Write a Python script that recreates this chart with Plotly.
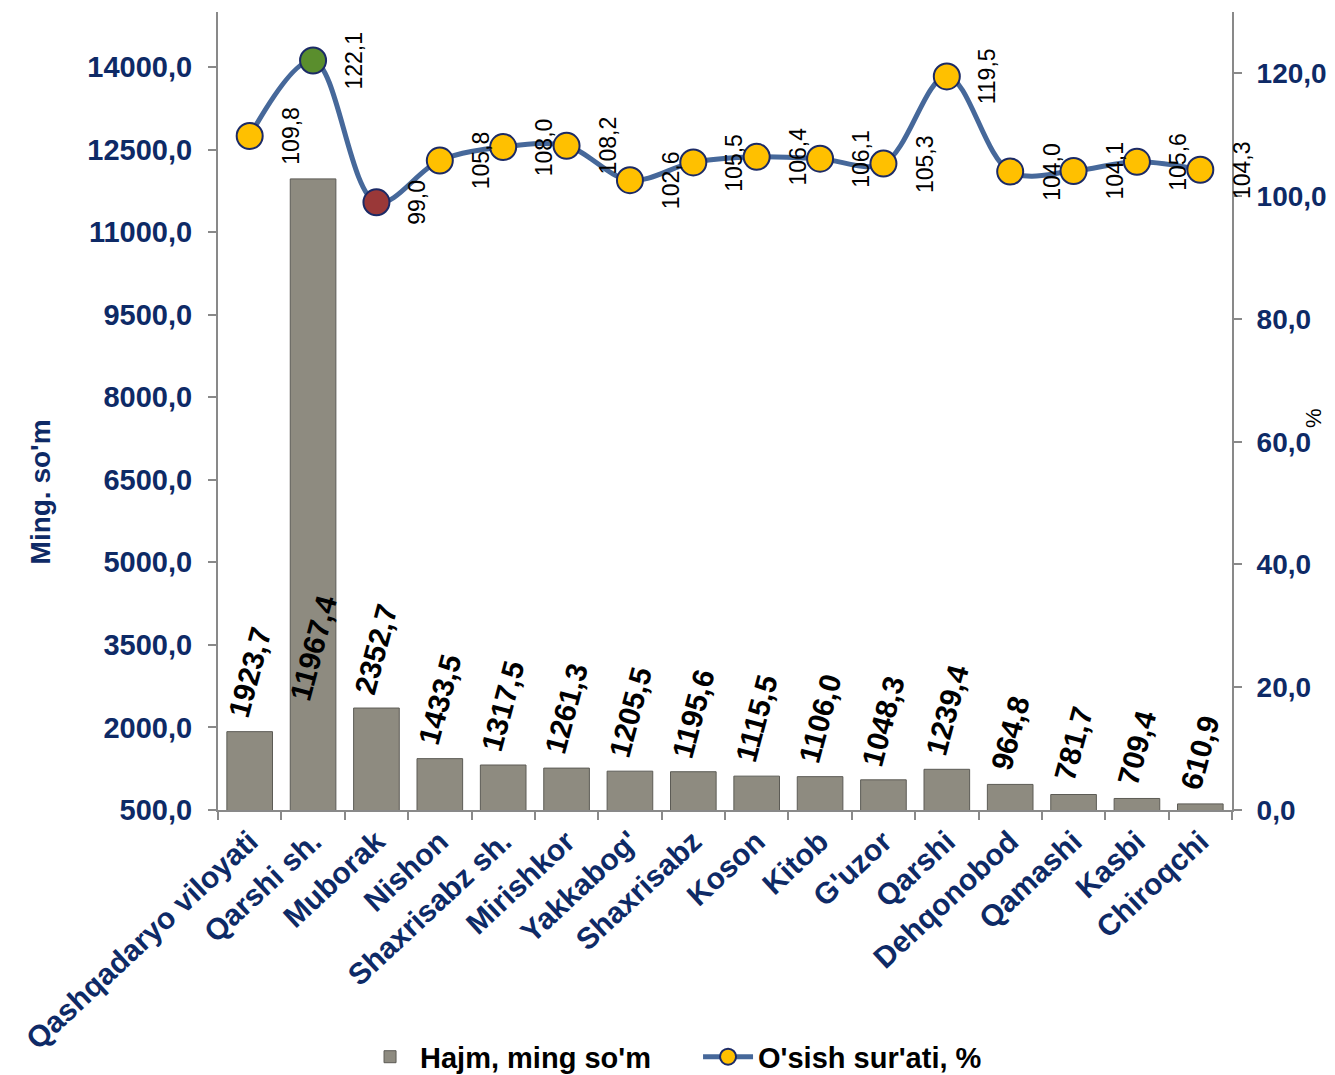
import plotly.graph_objects as go

categories = ["Qashqadaryo viloyati", "Qarshi sh.", "Muborak", "Nishon", "Shaxrisabz sh.",
              "Mirishkor", "Yakkabog'", "Shaxrisabz", "Koson", "Kitob", "G'uzor", "Qarshi",
              "Dehqonobod", "Qamashi", "Kasbi", "Chiroqchi"]
hajm = [1923.7, 11967.4, 2352.7, 1433.5, 1317.5, 1261.3, 1205.5, 1195.6, 1115.5, 1106.0,
        1048.3, 1239.4, 964.8, 781.7, 709.4, 610.9]
osish = [109.8, 122.1, 99.0, 105.8, 108.0, 108.2, 102.6, 105.5, 106.4, 106.1, 105.3, 119.5,
         104.0, 104.1, 105.6, 104.3]
left_ticks = [500, 2000, 3500, 5000, 6500, 8000, 9500, 11000, 12500, 14000]
right_ticks = [0, 20, 40, 60, 80, 100, 120]

NAVY = "#0E2A66"
FONT = "Arial, Liberation Sans, sans-serif"

def fmt(v):
    return f"{v:.1f}".replace(".", ",")

marker_colors = []
for v in osish:
    if v == max(osish):
        marker_colors.append("#5A8E2D")
    elif v == min(osish):
        marker_colors.append("#9A3838")
    else:
        marker_colors.append("#FFC000")

fig = go.Figure()
fig.add_trace(go.Bar(
    x=categories, y=hajm, name="Hajm, ming so'm",
    width=0.72,
    marker=dict(color="#8E8B80", line=dict(color="#5C5B55", width=1)),
    yaxis="y",
))
fig.add_trace(go.Scatter(
    x=categories, y=osish, name="O'sish sur'ati, %",
    mode="lines+markers",
    line=dict(color="#46689A", width=5, shape="spline", smoothing=1.0),
    marker=dict(size=26, color=marker_colors, line=dict(color="#1B2A66", width=2)),
    yaxis="y2",
))

annotations = []
for c, v in zip(categories, hajm):
    ylab = v
    if v == max(hajm):
        ylab = 2230  # label placed low inside the tall bar, as in the original
    annotations.append(dict(
        x=c, y=ylab, xref="x", yref="y", text=fmt(v), showarrow=False,
        textangle=-75, xanchor="center", yanchor="bottom", yshift=8,
        font=dict(family=FONT, size=30, color="#000000", weight="bold"),
    ))
for c, v in zip(categories, osish):
    annotations.append(dict(
        x=c, y=v, xref="x", yref="y2", text=fmt(v), showarrow=False,
        textangle=-90, xanchor="center", yanchor="middle", xshift=41,
        font=dict(family=FONT, size=23, color="#000000"),
    ))
annotations.append(dict(
    x=1.094, y=0.491, xref="paper", yref="paper", text="%", showarrow=False,
    textangle=-90, font=dict(family=FONT, size=22, color="#000000"),
))
annotations.append(dict(
    x=-0.1755, y=0.398, xref="paper", yref="paper", text="Ming. so'm", showarrow=False,
    textangle=-90, xanchor="center", yanchor="middle",
    font=dict(family=FONT, size=28, color=NAVY, weight="bold"),
))

fig.update_layout(
    width=1327, height=1067,
    margin=dict(l=210, r=103, t=4, b=265, autoexpand=False),
    paper_bgcolor="white", plot_bgcolor="white",
    separators=", ",
    showlegend=True,
    legend=dict(orientation="h", xref="container", yref="container",
                x=0.52, y=0.017, xanchor="center", yanchor="middle",
                font=dict(family=FONT, size=29, color="#000000", weight="bold"),
                itemwidth=50, entrywidth=273, tracegroupgap=0),
    xaxis=dict(
        type="category", range=[-0.5, len(categories) - 0.5],
        showline=True, linecolor="#898989", linewidth=2,
        ticks="outside", tickson="boundaries", ticklen=8, tickcolor="#898989", tickwidth=2,
        tickangle=-43, showgrid=False, automargin=False,
        tickfont=dict(family=FONT, size=30, color=NAVY, weight="bold"),
    ),
    yaxis=dict(
        range=[500, 15000], tickvals=left_ticks, tickformat=".1f",
        showline=True, linecolor="#898989", linewidth=2,
        ticks="outside", ticklen=8, tickcolor="#898989", tickwidth=2,
        ticklabelstandoff=10, showgrid=False, zeroline=False, automargin=False,
        tickfont=dict(family=FONT, size=29, color=NAVY, weight="bold"),
    ),
    yaxis2=dict(
        range=[0, 130], tickvals=right_ticks, tickformat=".1f",
        overlaying="y", side="right",
        showline=True, linecolor="#898989", linewidth=2,
        ticks="outside", ticklen=8, tickcolor="#898989", tickwidth=2,
        ticklabelstandoff=9, showgrid=False, zeroline=False, automargin=False,
        tickfont=dict(family=FONT, size=28, color=NAVY, weight="bold"),
    ),
    annotations=annotations,
)

fig.write_html("out.html")
